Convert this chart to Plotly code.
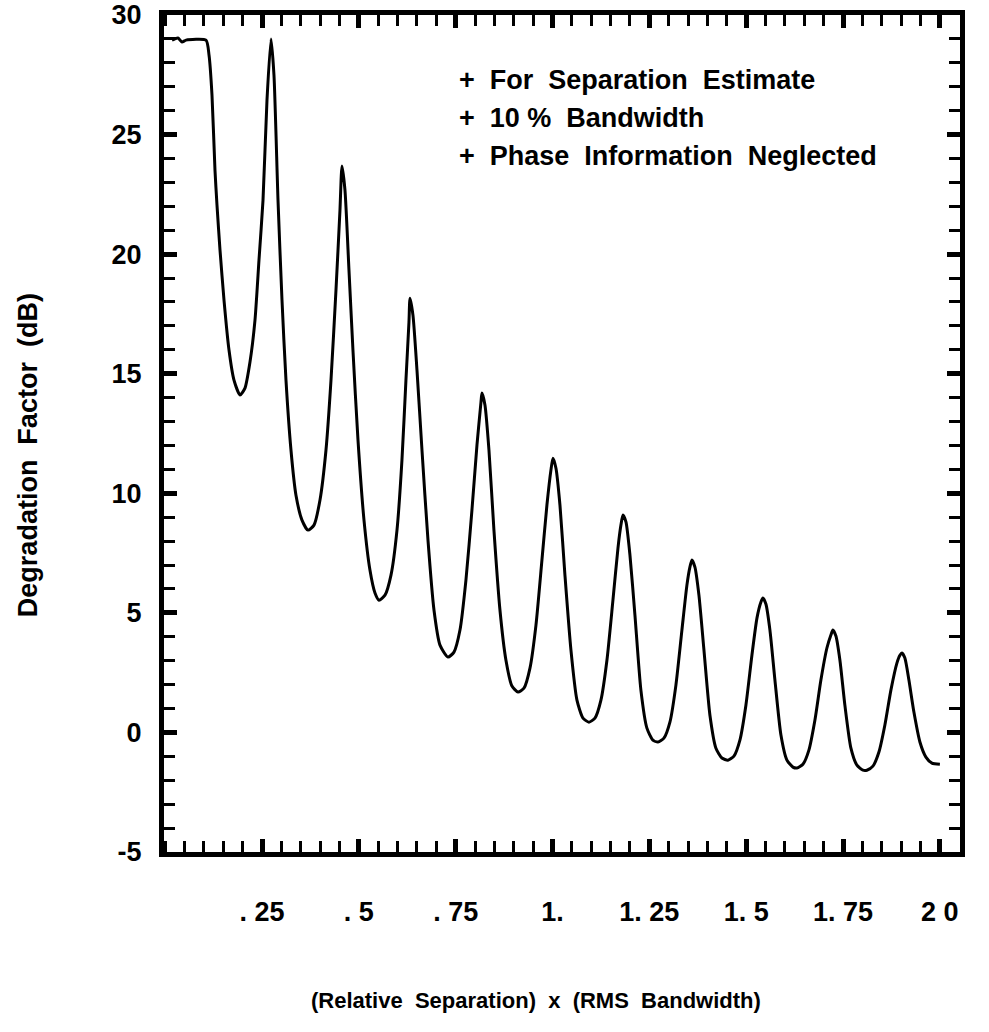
import plotly.graph_objects as go

# ---- data ----
x_sep = [
    0.0176, 0.0331, 0.0434, 0.0538, 0.1054, 0.1132, 0.1209, 0.1286, 0.1338, 0.1416, 0.1519, 0.1648, 0.1777, 0.1932,
    0.2061, 0.2190, 0.2319, 0.2422, 0.2526, 0.2629, 0.2732,
    0.2809, 0.2913, 0.3016, 0.3119, 0.3248, 0.3377, 0.3532, 0.3687,
    0.3842, 0.3997, 0.4152, 0.4281, 0.4410, 0.4513, 0.4565,
    0.4642, 0.4745, 0.4848, 0.4978, 0.5133, 0.5287, 0.5417, 0.5520,
    0.5675, 0.5830, 0.5985, 0.6113, 0.6216, 0.6294, 0.6321,
    0.6397, 0.6501, 0.6630, 0.6785, 0.6940, 0.7095, 0.7301,
    0.7456, 0.7611, 0.7765, 0.7920, 0.8050, 0.8153, 0.8178,
    0.8256, 0.8359, 0.8488, 0.8643, 0.8798, 0.8953, 0.9108,
    0.9263, 0.9418, 0.9573, 0.9727, 0.9856, 0.9959, 1.0011,
    1.0089, 1.0192, 1.0321, 1.0476, 1.0631, 1.0786, 1.0941,
    1.1096, 1.1250, 1.1405, 1.1560, 1.1690, 1.1766, 1.1818,
    1.1896, 1.1999, 1.2128, 1.2282, 1.2437, 1.2592, 1.2722,
    1.2876, 1.3031, 1.3186, 1.3341, 1.3470, 1.3547, 1.3599,
    1.3677, 1.3780, 1.3910, 1.4064, 1.4219, 1.4374, 1.4529,
    1.4684, 1.4838, 1.4993, 1.5148, 1.5278, 1.5381, 1.5432,
    1.5509, 1.5613, 1.5742, 1.5897, 1.6052, 1.6206, 1.6310,
    1.6465, 1.6619, 1.6774, 1.6929, 1.7084, 1.7187, 1.7239,
    1.7317, 1.7420, 1.7548, 1.7704, 1.7859, 1.8014, 1.8117,
    1.8272, 1.8427, 1.8581, 1.8736, 1.8891, 1.8969, 1.9021,
    1.9097, 1.9201, 1.9330, 1.9485, 1.9640, 1.9795, 2.0001,
]
degradation_db = [
    28.95, 29.04, 28.87, 28.95, 28.95, 28.33, 26.65, 23.52, 22.05, 20.17, 18.08, 15.99, 14.73, 14.11,
    14.40, 15.49, 17.24, 19.75, 22.26, 26.45, 29.00,
    27.49, 22.26, 18.08, 14.73, 11.81, 9.92, 8.88, 8.46,
    8.67, 9.72, 11.81, 14.73, 18.50, 21.84, 23.69,
    22.68, 19.34, 15.99, 12.23, 8.88, 6.79, 5.83, 5.53,
    5.74, 6.58, 8.46, 11.39, 14.73, 17.16, 18.16,
    17.45, 15.15, 11.81, 8.04, 5.12, 3.65, 3.15,
    3.36, 4.28, 6.37, 9.30, 12.02, 13.81, 14.19,
    13.69, 11.81, 8.46, 5.12, 3.02, 1.94, 1.69,
    1.85, 2.69, 4.49, 7.21, 9.51, 10.97, 11.47,
    11.05, 9.51, 6.58, 3.44, 1.35, 0.60, 0.43,
    0.60, 1.35, 3.02, 5.53, 7.71, 8.67, 9.09,
    8.80, 7.42, 4.91, 1.77, 0.18, -0.32, -0.40,
    -0.24, 0.43, 1.98, 4.28, 6.16, 6.91, 7.21,
    6.91, 5.74, 3.44, 0.72, -0.66, -1.07, -1.16,
    -0.99, -0.32, 1.14, 3.23, 4.78, 5.45, 5.62,
    5.37, 4.28, 2.19, -0.11, -1.16, -1.45, -1.49,
    -1.33, -0.74, 0.51, 2.19, 3.53, 4.07, 4.28,
    4.03, 3.02, 1.14, -0.66, -1.37, -1.58, -1.58,
    -1.41, -0.82, 0.31, 1.77, 2.90, 3.23, 3.32,
    3.11, 2.19, 0.85, -0.40, -1.03, -1.28, -1.33,
]

x_tick_vals = [0.25, 0.5, 0.75, 1.0, 1.25, 1.5, 1.75, 2.0]
x_tick_text = [". 25", ". 5", ". 75", "1.", "1. 25", "1. 5", "1. 75", "2 0"]
y_tick_vals = [-5, 0, 5, 10, 15, 20, 25, 30]
y_tick_text = ["-5", "0", "5", "10", "15", "20", "25", "30"]
notes = [
    "+\u00a0\u00a0For\u00a0 Separation\u00a0 Estimate",
    "+\u00a0\u00a010\u00a0%\u00a0 Bandwidth",
    "+\u00a0\u00a0Phase\u00a0 Information\u00a0 Neglected",
]
x_title = "(Relative\u00a0 Separation)\u00a0 x\u00a0 (RMS\u00a0 Bandwidth)"
y_title = "Degradation\u00a0 Factor\u00a0 (dB)"

FONT = "Liberation Sans, Arial, sans-serif"

fig = go.Figure()
fig.add_trace(go.Scatter(
    x=x_sep, y=degradation_db, mode="lines",
    line=dict(color="black", width=3, shape="spline", smoothing=0.6),
    showlegend=False, hoverinfo="skip",
))

axis_common = dict(
    showline=True, linecolor="black", linewidth=5, mirror="ticks",
    ticks="inside", tickcolor="black", showgrid=False, zeroline=False,
    automargin=False,
    tickfont=dict(family=FONT, size=27, color="black", weight="bold"),
)

fig.update_xaxes(
    **axis_common,
    range=[-0.003, 2.052],
    tickmode="array", tickvals=x_tick_vals, ticktext=x_tick_text,
    ticklen=13, tickwidth=5, ticklabelstandoff=32,
    minor=dict(ticks="inside", dtick=0.05, tick0=0, ticklen=11, tickwidth=3, tickcolor="black", showgrid=False),
)
fig.update_yaxes(
    **axis_common,
    range=[-5, 30],
    tickmode="array", tickvals=y_tick_vals, ticktext=y_tick_text,
    ticklen=13, tickwidth=5, ticklabelstandoff=12,
    minor=dict(ticks="inside", dtick=1, tick0=0, ticklen=11, tickwidth=3, tickcolor="black", showgrid=False),
)

# axis titles (placed as annotations to match the reference position)
fig.add_annotation(
    text=x_title, xref="paper", yref="paper", x=0.467, y=-0.177,
    xanchor="center", yanchor="middle", showarrow=False,
    font=dict(family=FONT, size=22, color="black", weight="bold"),
)
fig.add_annotation(
    text=y_title, xref="paper", yref="paper", x=-0.171, y=0.474,
    xanchor="center", yanchor="middle", showarrow=False, textangle=-90,
    font=dict(family=FONT, size=27, color="black", weight="bold"),
)

note_y = [0.922, 0.877, 0.8315]
for txt, yy in zip(notes, note_y):
    fig.add_annotation(
        text=txt, xref="paper", yref="paper", x=0.368, y=yy,
        xanchor="left", yanchor="middle", showarrow=False,
        font=dict(family=FONT, size=27, color="black", weight="bold"),
    )

fig.update_layout(
    width=989, height=1032,
    margin=dict(l=164, r=29, t=15, b=180),
    paper_bgcolor="white", plot_bgcolor="white",
)

fig.write_html("out.html")
